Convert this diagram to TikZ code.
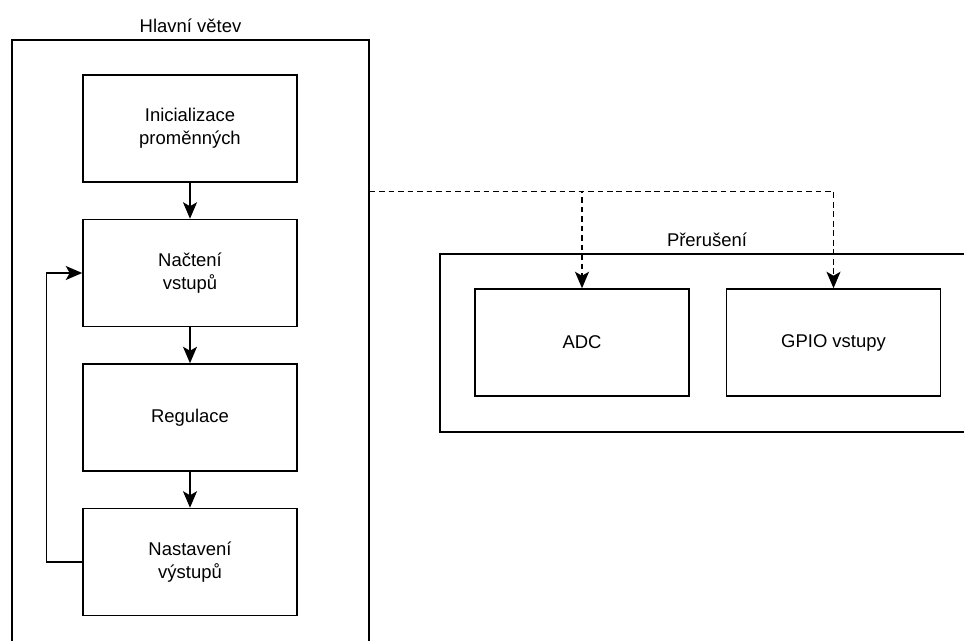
\documentclass[tikz,border=0pt]{standalone}
\usepackage{fontspec}
\setmainfont{Liberation Sans}
\usetikzlibrary{arrows.meta, positioning}

\begin{document}
\begin{tikzpicture}[
	x=0.2mm, y=-0.2mm,
	line width=0.85pt,
	node distance=7.2mm and 7.2mm,
	every node/.style = {font=\fontsize{10.5}{13}\selectfont},
	box/.style = {draw, minimum width=42.8mm, minimum height=21.4mm, align=center},
	frame/.style = {draw, label distance=1mm},
	arr/.style = {-{Stealth[length=3.3mm, width=2.8mm, inset=0.8mm]}},
	darr/.style = {arr, dash pattern=on 3.2pt off 2.2pt}
     ]
		\useasboundingbox (0,0) rectangle (964,640);
%
		\node[frame, minimum width=71.4mm, minimum height=122mm,
			label=above:{Hlavní větev}] (main) at (190.5,345) {};
		\node[frame, minimum width=106.8mm, minimum height=35.6mm,
			label=above:{Přerušení}] (intr) at (707,343) {};
%
		\node[box] (init) at (190,128.5) {Inicializace\\proměnných};
		\node[box, below=of init] (nact) {Načtení\\vstupů};
		\node[box, below=of nact] (reg) {Regulace};
		\node[box, below=of reg] (nast) {Nastavení\\výstupů};
%
		\node[box] (adc) at (582,342.5) {ADC};
		\node[box, right=of adc] (gpio) {GPIO vstupy};
%
		\draw[arr] (init) -- (nact);
		\draw[arr] (nact) -- (reg);
		\draw[arr] (reg) -- (nast);
		\draw[arr] (nast.west) -- ++(-36,0) |- (nact.west);
%
		\coordinate (tap) at ([yshift=-30.4mm] main.north east);
		\draw[darr] (tap) -| (adc.north);
		\draw[darr] (tap) -| (gpio.north);

\end{tikzpicture}
\end{document}
